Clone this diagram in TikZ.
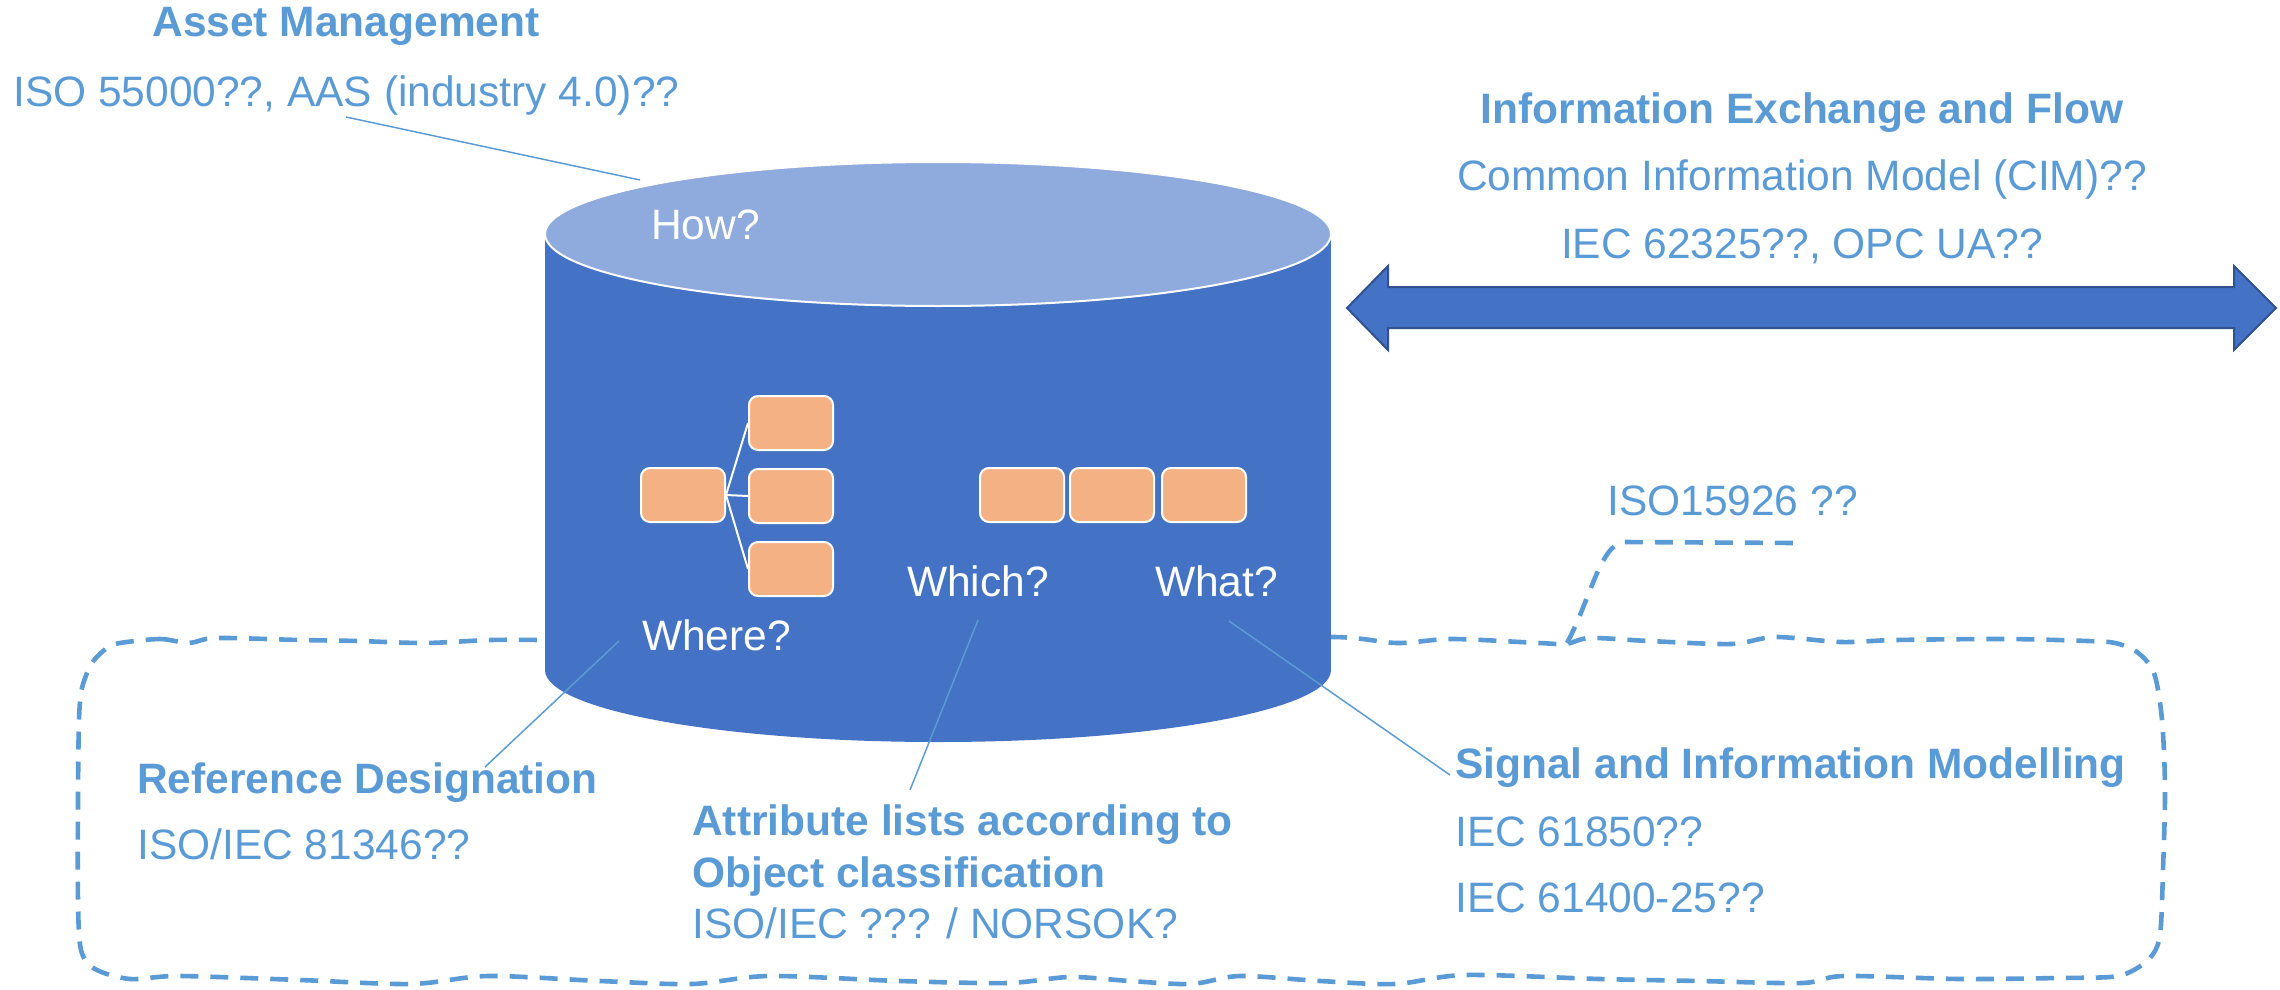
\documentclass[tikz,border=0pt]{standalone}
\usepackage{fontspec}
\setmainfont{Liberation Sans}
\definecolor{txtblue}{HTML}{5B9BD5}
\definecolor{cylblue}{HTML}{4472C4}
\definecolor{cyltop}{HTML}{8FAADC}
\definecolor{boxorange}{HTML}{F4B183}
\definecolor{arrowedge}{HTML}{2F528F}

\begin{document}
\begin{tikzpicture}[x=1pt,y=-1pt,
  lbl/.style={text=txtblue, font=\fontsize{42.5}{50}\selectfont, inner sep=0pt, anchor=base west},
  head/.style={lbl, font=\fontsize{42.5}{50}\selectfont\bfseries},
  quest/.style={text=white, font=\fontsize{42.5}{50}\selectfont, inner sep=0pt, anchor=base west},
  leader/.style={draw=txtblue, line width=1.5pt},
  callout/.style={draw=txtblue, line width=4.6pt, dash pattern=on 18pt off 12pt},
  obox/.style={draw=white, line width=2pt, fill=boxorange, rounded corners=9pt,
    minimum width=84pt, minimum height=54pt, inner sep=0pt},
  link/.style={draw=white, line width=2pt}]

\useasboundingbox (0,0) rectangle (2280,990);

% dashed wavy callout around the lower labels
\draw[callout] plot[smooth cycle, tension=0.5] coordinates {
  (120,643) (160,639) (189,643) (216,638) (300,640) (358,641) (425,643) (491,640)
  (545,640) (700,641) (938,641) (1180,640)
  (1334,637) (1397,643) (1452,639) (1539,643) (1566,644) (1590,638) (1649,641)
  (1731,644) (1775,637) (1841,642) (1896,640) (2006,639) (2088,641) (2115,643)
  (2137,652) (2154,673) (2162,720) (2165,790) (2163,870) (2160,935) (2150,958)
  (2130,972) (2110,977)
  (2060,978) (1960,979) (1844,976) (1802,983) (1700,981) (1600,979) (1465,975)
  (1395,984) (1320,981) (1240,976) (1191,984) (1130,981) (1070,977) (1007,983)
  (900,981) (769,976) (692,984) (600,981) (488,976) (411,984) (300,980)
  (179,976) (130,979)
  (95,969) (81,950) (78,900) (78,800) (79,720) (82,688) (92,663) (107,648)};
% tail pointing to the ISO15926 label
\coordinate (tailfoot) at (1567,643);
\coordinate (tailend) at (1795,543);
\draw[callout] (tailfoot) .. controls (1590,600) and (1600,546) .. (1623,542) -- (tailend);

% cylinder
\fill[cylblue] (545,234) rectangle (1331,670);
\fill[cylblue] (938,670) ellipse [x radius=393pt, y radius=72pt];
\filldraw[fill=cyltop, draw=white, line width=2pt] (938,234) ellipse [x radius=393pt, y radius=72pt];

% hierarchy boxes
\node[obox] (b0) at (683,495) {};
\node[obox] (b1) at (791,423) {};
\node[obox] (b2) at (791,496) {};
\node[obox] (b3) at (791,569) {};
\draw[link] (b0.east) -- (b1.west);
\draw[link] (b0.east) -- (b2.west);
\draw[link] (b0.east) -- (b3.west);

% attribute row boxes
\node[obox] (r1) at (1022,495) {};
\node[obox] (r2) at (1112,495) {};
\node[obox] (r3) at (1204,495) {};

% questions on the cylinder
\node[quest] (how) at (651,239) {How?};
\node[quest] (where) at (642,650) {Where?};
\node[quest] (which) at (907,596) {Which?};
\node[quest] (what) at (1155,596) {What?};

% double arrow for information exchange
\filldraw[fill=cylblue, draw=arrowedge, line width=2pt, line join=miter]
  (1347,308) -- (1388,266) -- (1388,287) -- (2234,287) -- (2234,266) -- (2276,308)
  -- (2234,350) -- (2234,328) -- (1388,328) -- (1388,350) -- cycle;

% labels
\node[head, anchor=base] (am) at (346,37) {Asset Management};
\node[lbl] (amstd) at (13,106) {ISO 55000??, AAS (industry 4.0)??};
\node[head, anchor=base] (ief) at (1802,123) {Information Exchange and Flow};
\node[lbl, anchor=base] (cim) at (1802,190) {Common Information Model (CIM)??};
\node[lbl, anchor=base] (iec62325) at (1802,258) {IEC 62325??, OPC UA??};
\node[lbl] (iso15926) at (1607,515) {ISO15926 ??};
\node[head] (refdes) at (137,793) {Reference Designation};
\node[lbl] (iso81346) at (137,859) {ISO/IEC 81346??};
\node[head] (attr1) at (692,835) {Attribute lists according to};
\node[head] (attr2) at (692,887) {Object classification};
\node[lbl] (norsok) at (692,938) {ISO/IEC ??? / NORSOK?};
\node[head] (sim) at (1455,778) {Signal and Information Modelling};
\node[lbl] (iec61850) at (1455,846) {IEC 61850??};
\node[lbl] (iec61400) at (1455,912) {IEC 61400-25??};

% leader lines
\coordinate (amfrom) at (346,117);
\coordinate (amto) at (640,180);
\coordinate (wherefrom) at (619,641);
\coordinate (whereto) at (485,767);
\coordinate (whichfrom) at (978,620);
\coordinate (whichto) at (910,790);
\coordinate (whatfrom) at (1229,621);
\coordinate (whatto) at (1450,775);
\draw[leader] (amfrom) -- (amto);
\draw[leader] (wherefrom) -- (whereto);
\draw[leader] (whichfrom) -- (whichto);
\draw[leader] (whatfrom) -- (whatto);
\end{tikzpicture}
\end{document}
